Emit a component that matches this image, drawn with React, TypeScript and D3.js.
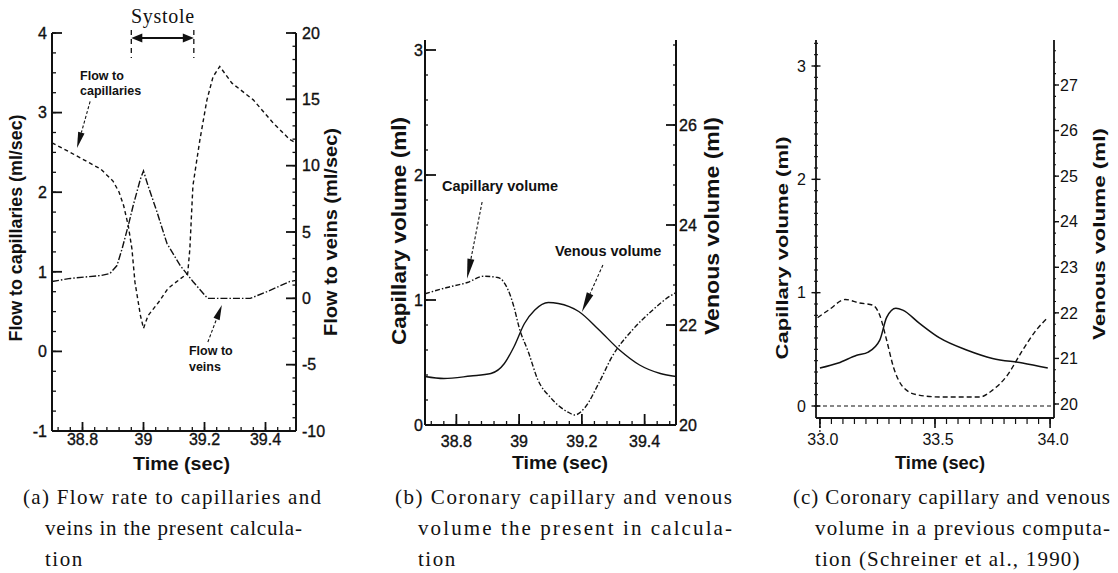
import React from "react";
import * as d3 from "d3";

// ---------- (a) Flow rate to capillaries and veins ----------
const flowCapTime = [38.7, 38.76, 38.86, 38.9, 38.92, 38.935, 38.95, 38.962, 38.972, 38.99, 39.0, 39.015, 39.05, 39.08, 39.12, 39.145, 39.152, 39.162, 39.175, 39.185, 39.208, 39.228, 39.25, 39.29, 39.36, 39.425, 39.48, 39.5];
const flowCapValue = [2.62, 2.5, 2.29, 2.14, 2.0, 1.83, 1.58, 1.29, 0.87, 0.45, 0.29, 0.45, 0.62, 0.79, 0.91, 0.98, 1.29, 2.08, 2.41, 2.66, 3.16, 3.45, 3.58, 3.37, 3.16, 2.87, 2.66, 2.62];
const flowVeinTime = [38.7, 38.76, 38.86, 38.89, 38.913, 38.93, 38.95, 38.966, 38.99, 39.0, 39.015, 39.044, 39.077, 39.12, 39.162, 39.21, 39.35, 39.405, 39.48, 39.5];
const flowVeinValue = [1.27, 1.5, 1.72, 1.87, 2.47, 3.75, 5.48, 6.98, 9.0, 9.6, 8.48, 6.53, 4.13, 2.48, 1.27, 0, 0, 0.5, 1.27, 1.35];
const systole = [38.96, 39.165];
const flowXTicks = ["38.8", "39", "39.2", "39.4"];
const flowLeftTicks = ["-1", "0", "1", "2", "3", "4"];
const flowRightTicks = ["-10", "-5", "0", "5", "10", "15", "20"];

// ---------- (b) Coronary capillary and venous volume, present calculation ----------
const capVolTime = [38.7, 38.77, 38.835, 38.887, 38.932, 38.965, 38.984, 39.0, 39.03, 39.06, 39.1, 39.158, 39.177, 39.21, 39.255, 39.297, 39.361, 39.426, 39.48, 39.5];
const capVolValue = [1.05, 1.1, 1.14, 1.19, 1.18, 1.08, 0.94, 0.78, 0.58, 0.36, 0.22, 0.1, 0.08, 0.14, 0.34, 0.55, 0.76, 0.92, 1.03, 1.06];
const venVolTime = [38.7, 38.76, 38.845, 38.91, 38.953, 38.984, 39.017, 39.05, 39.093, 39.125, 39.19, 39.255, 39.32, 39.384, 39.45, 39.5];
const venVolValue = [20.97, 20.93, 20.98, 21.03, 21.23, 21.57, 22.03, 22.3, 22.45, 22.43, 22.27, 21.9, 21.5, 21.2, 21.03, 20.97];
const volXTicks = ["38.8", "39", "39.2", "39.4"];
const volLeftTicks = ["0", "1", "2", "3"];
const volRightTicks = ["20", "22", "24", "26"];

// ---------- (c) Previous computation (Schreiner et al., 1990) ----------
const prevCapTime = [32.99, 33.04, 33.11, 33.17, 33.23, 33.26, 33.29, 33.32, 33.36, 33.42, 33.52, 33.695, 33.75, 33.81, 33.88, 33.94, 33.99];
const prevCapValue = [0.78, 0.85, 0.94, 0.91, 0.89, 0.8, 0.58, 0.34, 0.17, 0.1, 0.08, 0.08, 0.14, 0.26, 0.49, 0.67, 0.78];
const prevVenTime = [33.0, 33.08, 33.16, 33.21, 33.26, 33.29, 33.33, 33.36, 33.43, 33.52, 33.64, 33.75, 33.88, 33.99];
const prevVenValue = [20.79, 20.9, 21.07, 21.14, 21.4, 21.9, 22.1, 22.06, 21.78, 21.45, 21.18, 21.0, 20.9, 20.79];
const prevXTicks = ["33.0", "33.5", "34.0"];
const prevLeftTicks = ["0", "1", "2", "3"];
const prevRightTicks = ["20", "21", "22", "23", "24", "25", "26", "27"];

const SANS = "'Liberation Sans', Arial, Helvetica, sans-serif";
const SERIF = "'Liberation Serif', 'Times New Roman', serif";
const INK = "#111";

type Scale = d3.ScaleLinear<number, number>;

function steps(start: number, stop: number, step: number): number[] {
  const n = Math.round((stop - start) / step);
  return d3.range(n + 1).map((i) => +(start + i * step).toFixed(4));
}

function zip(t: number[], v: number[]): [number, number][] {
  return t.map((d, i) => [d, v[i]]);
}

function pathOf(x: Scale, y: Scale, t: number[], v: number[], curve: d3.CurveFactory) {
  return (
    d3
      .line<[number, number]>()
      .x((d) => x(d[0]))
      .y((d) => y(d[1]))
      .curve(curve)(zip(t, v)) || ""
  );
}

// vertical-axis ticks; dir: +1 right, -1 left, 0 both sides
function YTicks({ y, x, values, len, dir, w = 1.3 }: { y: Scale; x: number; values: number[]; len: number; dir: number; w?: number }) {
  return (
    <g>
      {values.map((v) => {
        const yy = y(v);
        const x1 = dir === 0 ? x - len : x;
        const x2 = dir === 0 ? x + len : x + dir * len;
        return <line key={v} x1={x1} x2={x2} y1={yy} y2={yy} stroke={INK} strokeWidth={w} />;
      })}
    </g>
  );
}

// horizontal-axis ticks; dir: -1 up, +1 down
function XTicks({ x, y, values, len, dir, w = 1.3 }: { x: Scale; y: number; values: number[]; len: number; dir: number; w?: number }) {
  return (
    <g>
      {values.map((v) => {
        const xx = x(v);
        return <line key={v} x1={xx} x2={xx} y1={y} y2={y + dir * len} stroke={INK} strokeWidth={w} />;
      })}
    </g>
  );
}

function Arrow({ x1, y1, x2, y2, head = 15, half = 3.3, dash }: { x1: number; y1: number; x2: number; y2: number; head?: number; half?: number; dash?: string }) {
  const dx = x2 - x1;
  const dy = y2 - y1;
  const L = Math.hypot(dx, dy);
  const ux = dx / L;
  const uy = dy / L;
  const bx = x2 - ux * head;
  const by = y2 - uy * head;
  const px = -uy * half;
  const py = ux * half;
  return (
    <g>
      <line x1={x1} y1={y1} x2={bx} y2={by} stroke={INK} strokeWidth={1.1} strokeDasharray={dash} />
      <path d={`M${x2},${y2}L${bx + px},${by + py}L${bx - px},${by - py}Z`} fill={INK} />
    </g>
  );
}

function VTitle({ x, y, text, size, length }: { x: number; y: number; text: string; size: number; length: number }) {
  return (
    <text
      transform={`translate(${x},${y}) rotate(-90)`}
      textAnchor="middle"
      dominantBaseline="central"
      fontFamily={SANS}
      fontWeight="bold"
      fontSize={size}
      textLength={length}
      lengthAdjust="spacingAndGlyphs"
      fill={INK}
    >
      {text}
    </text>
  );
}

function HTitle({ x, y, text, size, length }: { x: number; y: number; text: string; size: number; length: number }) {
  return (
    <text x={x - length / 2} y={y} fontFamily={SANS} fontWeight="bold" fontSize={size} textLength={length} lengthAdjust="spacingAndGlyphs" fill={INK}>
      {text}
    </text>
  );
}

function Caption({ x, indent, y, lines }: { x: number; indent: number; y: number; lines: { text: string; length?: number; spacing?: number }[] }) {
  return (
    <g fontFamily={SERIF} fontSize={21} fill={INK}>
      {lines.map((l, i) => (
        <text
          key={i}
          x={i === 0 ? x : x + indent}
          y={y + i * 31}
          textLength={l.length}
          lengthAdjust={l.length ? "spacing" : undefined}
          letterSpacing={l.spacing}
        >
          {l.text}
        </text>
      ))}
    </g>
  );
}

function PanelA() {
  const x = d3.scaleLinear().domain([38.7, 39.5]).range([52, 296]);
  const yL = d3.scaleLinear().domain([-1, 4]).range([431, 33]);
  const yR = d3.scaleLinear().domain([-10, 20]).range([431, 33]);
  const [x0, x1] = x.range();
  const [yb, yt] = yL.range();
  const sy = 38;
  return (
    <g>
      {/* axes */}
      <line x1={x0} x2={x0} y1={yt} y2={yb} stroke={INK} strokeWidth={2} />
      <line x1={x1} x2={x1} y1={yt} y2={yb} stroke={INK} strokeWidth={2} />
      <line x1={x0} x2={x1} y1={yb} y2={yb} stroke={INK} strokeWidth={2} />
      <YTicks y={yL} x={x0} values={steps(-1, 4, 0.25)} len={4} dir={1} />
      <YTicks y={yL} x={x0} values={steps(-1, 4, 1)} len={10} dir={1} w={1.8} />
      <YTicks y={yR} x={x1} values={steps(-10, 20, 1)} len={3.5} dir={-1} />
      <YTicks y={yR} x={x1} values={steps(-10, 20, 5)} len={10} dir={-1} w={1.8} />
      <XTicks x={x} y={yb} values={steps(38.72, 39.48, 0.04)} len={4} dir={-1} />
      <XTicks x={x} y={yb} values={steps(38.8, 39.4, 0.2)} len={9} dir={-1} w={1.8} />
      {/* tick labels */}
      <g fontFamily={SANS} fontSize={16} fill={INK} stroke={INK} strokeWidth={0.35}>
        {flowXTicks.map((t) => (
          <text key={t} x={x(+t)} y={445} textAnchor="middle">{t}</text>
        ))}
        {flowLeftTicks.map((t) => (
          <text key={t} x={47} y={yL(+t)} dy="0.36em" textAnchor="end">{t}</text>
        ))}
        {flowRightTicks.map((t) => (
          <text key={t} x={302} y={yR(+t)} dy="0.36em" textAnchor="start">{t}</text>
        ))}
      </g>
      <HTitle x={181.5} y={470} text="Time (sec)" size={18} length={97} />
      <VTitle x={16} y={228} text="Flow to capillaries (ml/sec)" size={18} length={227} />
      <VTitle x={331} y={232} text="Flow to veins (ml/sec)" size={18} length={208} />
      {/* curves */}
      <path d={pathOf(x, yL, flowCapTime, flowCapValue, d3.curveLinear)} fill="none" stroke={INK} strokeWidth={1.4} strokeDasharray="4,3" />
      <path d={pathOf(x, yR, flowVeinTime, flowVeinValue, d3.curveLinear)} fill="none" stroke={INK} strokeWidth={1.4} strokeDasharray="7,2,1.5,2" />
      {/* systole marker */}
      <text x={x((systole[0] + systole[1]) / 2)} y={23} textAnchor="middle" fontFamily={SERIF} fontSize={20} textLength={63} lengthAdjust="spacing" fill={INK}>
        Systole
      </text>
      {systole.map((s) => (
        <line key={s} x1={x(s)} x2={x(s)} y1={30} y2={58} stroke={INK} strokeWidth={1.3} strokeDasharray="5,4" />
      ))}
      <Arrow x1={x(systole[0]) + 20} y1={sy} x2={x(systole[0])} y2={sy} head={11} half={4.5} />
      <Arrow x1={x(systole[1]) - 20} y1={sy} x2={x(systole[1])} y2={sy} head={11} half={4.5} />
      <line x1={x(systole[0]) + 10} x2={x(systole[1]) - 10} y1={sy} y2={sy} stroke={INK} strokeWidth={2} />
      {/* annotations */}
      <g fontFamily={SANS} fontWeight="bold" fontSize={12.5} fill={INK}>
        <text x={x(38.792)} y={yL(3.41)}>Flow to</text>
        <text x={x(38.792)} y={yL(3.215)}>capillaries</text>
        <text x={x(39.149)} y={yL(-0.05)}>Flow to</text>
        <text x={x(39.149)} y={yL(-0.245)}>veins</text>
      </g>
      <Arrow x1={x(38.825)} y1={yL(3.14)} x2={x(38.782)} y2={yL(2.555)} head={16} dash="3,2" />
      <Arrow x1={x(39.211)} y1={yL(0.118)} x2={x(39.257)} y2={yL(0.583)} head={15} dash="3,2" />
    </g>
  );
}

function PanelB() {
  const x = d3.scaleLinear().domain([38.7, 39.5]).range([425, 676]);
  const yL = d3.scaleLinear().domain([0, 3.08]).range([425, 40]);
  const yR = d3.scaleLinear().domain([20, 27.7]).range([425, 40]);
  const [x0, x1] = x.range();
  const [yb, yt] = yL.range();
  return (
    <g>
      <line x1={x0} x2={x0} y1={yt} y2={yb} stroke={INK} strokeWidth={2} />
      <line x1={x1} x2={x1} y1={yt} y2={yb} stroke={INK} strokeWidth={2} />
      <line x1={x0} x2={x1} y1={yb} y2={yb} stroke={INK} strokeWidth={2.2} />
      <YTicks y={yL} x={x0} values={steps(0, 3, 0.2)} len={3} dir={1} />
      <YTicks y={yL} x={x0} values={steps(0, 3, 1)} len={11} dir={1} w={1.8} />
      <YTicks y={yR} x={x1} values={steps(20, 27.6, 0.4)} len={3} dir={-1} />
      <YTicks y={yR} x={x1} values={steps(20, 26, 2)} len={10} dir={-1} w={1.8} />
      <XTicks x={x} y={yb} values={steps(38.72, 39.48, 0.04)} len={4} dir={-1} />
      <XTicks x={x} y={yb} values={steps(38.8, 39.4, 0.2)} len={11} dir={-1} w={1.8} />
      <g fontFamily={SANS} fontSize={16} fill={INK} stroke={INK} strokeWidth={0.35}>
        {volXTicks.map((t) => (
          <text key={t} x={x(+t)} y={447} textAnchor="middle">{t}</text>
        ))}
        {volLeftTicks.map((t) => (
          <text key={t} x={423} y={yL(+t)} dy="0.36em" textAnchor="end">{t}</text>
        ))}
        {volRightTicks.map((t) => (
          <text key={t} x={679} y={yR(+t)} dy="0.36em" textAnchor="start">{t}</text>
        ))}
      </g>
      <HTitle x={560} y={469} text="Time (sec)" size={19} length={96} />
      <VTitle x={399} y={231} text="Capillary volume (ml)" size={20} length={228} />
      <VTitle x={712} y={226} text="Venous volume (ml)" size={20} length={218} />
      <path d={pathOf(x, yL, capVolTime, capVolValue, d3.curveMonotoneX)} fill="none" stroke={INK} strokeWidth={1.4} strokeDasharray="5,2,1.5,2" />
      <path d={pathOf(x, yR, venVolTime, venVolValue, d3.curveMonotoneX)} fill="none" stroke={INK} strokeWidth={1.4} />
      <g fontFamily={SANS} fontWeight="bold" fontSize={14.5} fill={INK}>
        <text x={x(38.754)} y={yL(1.872)}>Capillary volume</text>
        <text x={x(39.114)} y={yL(1.352)}>Venous volume</text>
      </g>
      <Arrow x1={x(38.882)} y1={yL(1.784)} x2={x(38.834)} y2={yL(1.17)} head={20} half={3.5} dash="3,2" />
      <Arrow x1={x(39.267)} y1={yL(1.28)} x2={x(39.2)} y2={yL(0.904)} head={20} half={3.5} dash="3,2" />
    </g>
  );
}

function PanelC() {
  const x = d3.scaleLinear().domain([32.983, 34.017]).range([816, 1054]);
  const yL = d3.scaleLinear().domain([0, 3]).range([406, 66]);
  const yR = d3.scaleLinear().domain([20, 27]).range([404, 85]);
  const [x0, x1] = x.range();
  const yb = 418;
  const yt = 40;
  return (
    <g>
      <line x1={x0} x2={x0} y1={yt} y2={yb} stroke={INK} strokeWidth={1.8} />
      <line x1={x1} x2={x1} y1={yt} y2={yb} stroke={INK} strokeWidth={1.8} />
      <line x1={x0} x2={x1} y1={yb} y2={yb} stroke={INK} strokeWidth={2} />
      <YTicks y={yL} x={x0} values={steps(0, 3.2, 0.1)} len={2} dir={0} w={1.1} />
      <YTicks y={yL} x={x0} values={steps(0, 3, 1)} len={4.5} dir={0} w={1.4} />
      <YTicks y={yR} x={x1} values={steps(20, 27.75, 0.25)} len={2} dir={1} w={1.1} />
      <YTicks y={yR} x={x1} values={steps(20, 27, 1)} len={5} dir={1} w={1.4} />
      <XTicks x={x} y={yb} values={steps(33.0, 34.0, 0.05)} len={6} dir={1} w={1.2} />
      <XTicks x={x} y={yb} values={steps(33.0, 34.0, 0.5)} len={10} dir={1} w={1.6} />
      <line x1={x(33.0)} x2={x(33.0)} y1={yb} y2={yb + 14} stroke={INK} strokeWidth={1.2} strokeDasharray="2,2" />
      <g fontFamily={SANS} fontSize={16} fill={INK}>
        {prevXTicks.map((t) => (
          <text key={t} x={x(+t) + 3} y={445} textAnchor="middle">{t}</text>
        ))}
        {prevLeftTicks.map((t) => (
          <text key={t} x={806} y={yL(+t)} dy="0.36em" textAnchor="end">{t}</text>
        ))}
        {prevRightTicks.map((t) => (
          <text key={t} x={1060} y={yR(+t)} dy="0.36em" textAnchor="start">{t}</text>
        ))}
      </g>
      <HTitle x={940} y={469} text="Time (sec)" size={18} length={90} />
      <VTitle x={782} y={248} text="Capillary volume (ml)" size={17} length={223} />
      <VTitle x={1099} y={234} text="Venous volume (ml)" size={17} length={212} />
      <line x1={x0} x2={x1} y1={yL(0)} y2={yL(0)} stroke={INK} strokeWidth={1.2} strokeDasharray="4,3" />
      <path d={pathOf(x, yL, prevCapTime, prevCapValue, d3.curveMonotoneX)} fill="none" stroke={INK} strokeWidth={1.4} strokeDasharray="5,3" />
      <path d={pathOf(x, yR, prevVenTime, prevVenValue, d3.curveMonotoneX)} fill="none" stroke={INK} strokeWidth={1.5} />
    </g>
  );
}

export default function App() {
  return (
    <svg width={1118} height={573} style={{ position: "absolute", left: 0, top: 0, display: "block" }}>
      <rect width={1118} height={573} fill="#fff" />
      <PanelA />
      <PanelB />
      <PanelC />
      <Caption
        x={23}
        indent={22}
        y={504}
        lines={[
          { text: "(a) Flow rate to capillaries and", length: 298 },
          { text: "veins in the present calcula-", length: 257 },
          { text: "tion", spacing: 1.5 },
        ]}
      />
      <Caption
        x={395}
        indent={23}
        y={504}
        lines={[
          { text: "(b) Coronary capillary and venous", length: 337 },
          { text: "volume the present in calcula-", length: 314 },
          { text: "tion", spacing: 1.5 },
        ]}
      />
      <Caption
        x={793}
        indent={22}
        y={504}
        lines={[
          { text: "(c) Coronary capillary and venous", length: 317 },
          { text: "volume in a previous computa-", length: 295 },
          { text: "tion (Schreiner et al., 1990)", spacing: 1.2 },
        ]}
      />
    </svg>
  );
}
